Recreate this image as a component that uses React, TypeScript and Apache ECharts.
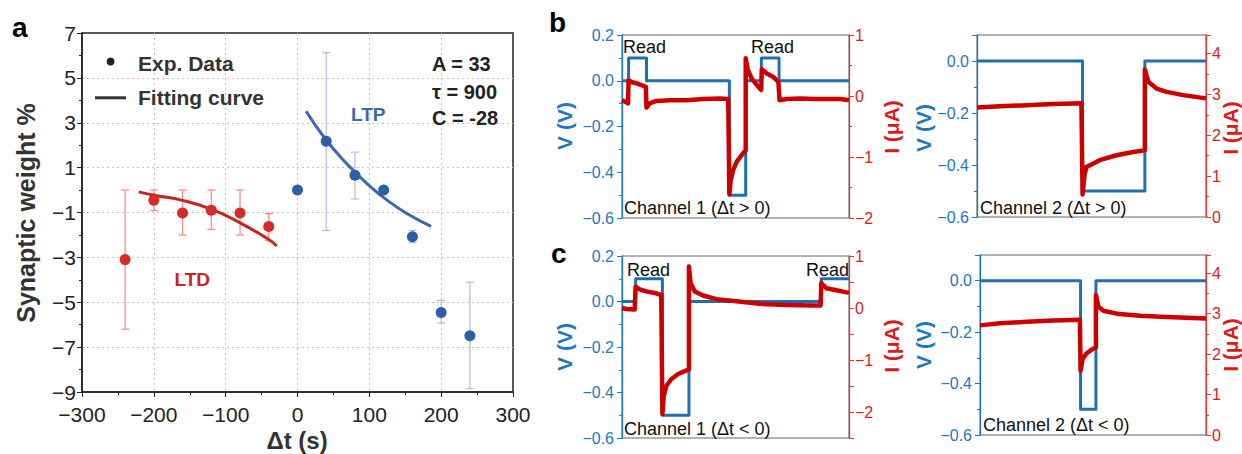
import React, { useEffect, useRef } from "react";
import * as echarts from "echarts";

const FONT = "'Liberation Sans', Arial, Helvetica, sans-serif";

// ---------- Panel a data ----------
const ltdX = [-240, -200, -160, -120, -80, -40];
const ltdY = [-3.1, -0.45, -1.02, -0.9, -1.02, -1.62];
const ltdErrLow = [-6.2, -0.92, -2.0, -1.75, -2.0, -2.26];
const ltdErrHigh = [0.0, 0.0, 0.0, 0.0, 0.0, -1.05];

const ltpX = [0, 40, 80, 120, 160, 200, 240];
const ltpY = [0.0, 2.18, 0.66, 0.0, -2.08, -5.46, -6.49];
const ltpErrLow: (number | null)[] = [null, -1.8, -0.4, null, -2.34, -5.92, -8.85];
const ltpErrHigh: (number | null)[] = [null, 6.12, 1.69, null, -1.8, -4.92, -4.11];

const ltdFitX = [-221, -200, -160, -120, -80, -40, -29];
const ltdFitY = [-0.08, -0.23, -0.46, -0.85, -1.46, -2.2, -2.49];
const ltpFitX = [12, 38, 67, 96, 125, 154, 186];
const ltpFitY = [3.51, 2.31, 1.23, 0.31, -0.46, -1.08, -1.62];

const aXTicks = [-300, -200, -100, 0, 100, 200, 300];
const aYTicks = [-9, -7, -5, -3, -1, 1, 3, 5, 7];

// ---------- Panel b, Channel 1 (dt > 0) ----------
const b1VT = [0, 2.9, 2.9, 10.8, 10.8, 47.3, 47.3, 54.5, 54.5, 61.4, 61.4, 69.2, 69.2, 100];
const b1V = [0, 0, 0.1, 0.1, 0, 0, -0.5, -0.5, 0, 0, 0.1, 0.1, 0, 0];
const b1IT = [0, 1.2, 2.65, 2.9, 4.1, 6.3, 8.5, 10.5, 10.8, 12.2, 15.2, 21.1, 28.4, 35.8, 43.2, 46.8, 47.3, 47.9, 49.0, 50.5, 52.7, 54.5, 54.5, 55.4, 57.1, 59.4, 61.3, 61.6, 63.8, 66.7, 68.9, 69.4, 72.6, 78.5, 84.4, 90.3, 96.2, 100];
const b1I = [-0.07, -0.09, -0.12, 0.26, 0.23, 0.21, 0.18, 0.15, -0.19, -0.12, -0.08, -0.07, -0.07, -0.05, -0.04, -0.05, -1.61, -1.38, -1.21, -1.08, -0.97, -0.89, 0.62, 0.43, 0.29, 0.18, 0.1, 0.44, 0.37, 0.31, 0.23, -0.07, -0.05, -0.04, -0.05, -0.05, -0.05, -0.07];

// ---------- Panel b, Channel 2 (dt > 0) ----------
const b2VT = [0, 46.1, 46.1, 73.3, 73.3, 100];
const b2V = [0, 0, -0.5, -0.5, 0, 0];
const b2IT = [0, 9.9, 21.6, 33.2, 45.6, 46.1, 47.0, 47.8, 53.6, 60.9, 68.2, 73.3, 73.3, 74.8, 78.4, 82.8, 90.1, 100];
const b2I = [2.68, 2.71, 2.73, 2.76, 2.78, 0.55, 1.05, 1.22, 1.39, 1.51, 1.59, 1.63, 3.61, 3.31, 3.14, 3.06, 2.98, 2.9];

// ---------- Panel c, Channel 1 (dt < 0) ----------
const c1VT = [0, 6.0, 6.0, 17.8, 17.8, 29.5, 29.5, 87.8, 87.8, 100];
const c1V = [0, 0, 0.1, 0.1, -0.5, -0.5, 0, 0, 0.1, 0.1];
const c1IT = [0, 1.9, 5.6, 6.0, 7.8, 10.7, 14.4, 17.3, 17.8, 18.4, 19.5, 21.7, 24.7, 29.5, 29.5, 30.2, 32.0, 35.7, 41.6, 50.4, 60.6, 72.4, 84.1, 87.5, 87.8, 90.0, 94.4, 100];
const c1I = [0.0, -0.02, -0.03, 0.41, 0.36, 0.32, 0.29, 0.25, -2.04, -1.69, -1.5, -1.37, -1.27, -1.18, 0.8, 0.48, 0.32, 0.24, 0.17, 0.13, 0.08, 0.06, 0.05, 0.05, 0.48, 0.38, 0.34, 0.29];

// ---------- Panel c, Channel 2 (dt < 0) ----------
const c2VT = [0, 44.5, 44.5, 51.3, 51.3, 100];
const c2V = [0, 0, -0.5, -0.5, 0, 0];
const c2IT = [0, 8.8, 20.6, 32.4, 44.2, 44.5, 45.4, 47.2, 49.4, 51.3, 51.3, 52.4, 54.6, 60.5, 70.8, 82.6, 100];
const c2I = [2.71, 2.76, 2.8, 2.83, 2.85, 1.59, 1.88, 2.02, 2.11, 2.17, 3.46, 3.17, 3.07, 3.0, 2.95, 2.92, 2.88];

const BLUE_V = "#1f6fb5";
const RED_I = "#cc0000";
const BLUE_LBL = "#1f77c0";
const RED_LBL = "#dd1a1a";

const zip = (a: number[], b: number[]) => a.map((v, i) => [v, b[i]]);
const minus = (s: string) => s.replace("-", "\u2212");
const fmt1 = (v: number) => minus((Math.abs(v) < 1e-9 ? 0 : v).toFixed(1));
const fmt0 = (v: number) => {
  const r = Math.round(v * 1000) / 1000;
  if (Math.abs(r - Math.round(r)) > 1e-6) return "";
  return minus(String(Math.round(r)));
};

function errorBar(color: string) {
  return (params: any, api: any) => {
    const x = api.value(0);
    const lo = api.value(1);
    const hi = api.value(2);
    const a = api.coord([x, hi]);
    const b = api.coord([x, lo]);
    const w = 4;
    const style = { stroke: color, lineWidth: 1.2 };
    return {
      type: "group",
      children: [
        { type: "line", shape: { x1: a[0], y1: a[1], x2: b[0], y2: b[1] }, style },
        { type: "line", shape: { x1: a[0] - w, y1: a[1], x2: a[0] + w, y2: a[1] }, style },
        { type: "line", shape: { x1: b[0] - w, y1: b[1], x2: b[0] + w, y2: b[1] }, style },
      ],
    };
  };
}

function vAxis(grid: number, min: number, max: number, hideMax: boolean) {
  return {
    type: "value",
    gridIndex: grid,
    position: "left",
    min,
    max,
    interval: 0.2,
    axisLine: { show: true, onZero: false, lineStyle: { color: BLUE_LBL, width: 1.3 } },
    axisTick: { show: true, length: 5, lineStyle: { color: BLUE_LBL } },
    minorTick: { show: true, splitNumber: 2, length: 3, lineStyle: { color: BLUE_LBL } },
    splitLine: { show: false },
    axisLabel: {
      color: BLUE_LBL,
      fontFamily: FONT,
      fontSize: 16,
      margin: 8,
      showMaxLabel: !hideMax,
      formatter: fmt1,
    },
  };
}

function iAxis(grid: number, min: number, max: number, interval: number, hideMax: boolean, minor: boolean) {
  return {
    type: "value",
    gridIndex: grid,
    position: "right",
    min,
    max,
    interval,
    axisLine: { show: true, onZero: false, lineStyle: { color: "#e0383c", width: 1.3 } },
    axisTick: { show: true, length: 5, lineStyle: { color: "#e0383c" } },
    minorTick: { show: minor, splitNumber: 2, length: 3, lineStyle: { color: "#e0383c" } },
    splitLine: { show: false },
    axisLabel: {
      color: RED_LBL,
      fontFamily: FONT,
      fontSize: 16,
      margin: 6,
      showMaxLabel: !hideMax,
      formatter: fmt0,
    },
  };
}

function hiddenX(grid: number) {
  return { type: "value", gridIndex: grid, min: 0, max: 100, show: false };
}

function wave(xi: number, yi: number, t: number[], v: number[], color: string, width: number, z: number) {
  return {
    type: "line",
    xAxisIndex: xi,
    yAxisIndex: yi,
    data: zip(t, v),
    showSymbol: false,
    symbol: "none",
    lineStyle: { color, width, join: "round" },
    z,
  };
}

function txt(x: number, y: number, text: string, font: string, fill: string, align = "left", rot = 0) {
  return {
    type: "text",
    x,
    y,
    rotation: rot,
    z: 100,
    style: { text, font, fill, textAlign: align, textVerticalAlign: "middle" },
  };
}

export default function App() {
  const ref = useRef<HTMLDivElement>(null);
  useEffect(() => {
    if (!ref.current) return;
    const chart = echarts.init(ref.current, null, { renderer: "svg" });

    const ltdErr = ltdX.map((x, i) => [x, ltdErrLow[i], ltdErrHigh[i]]);
    const ltpErr = ltpX
      .map((x, i) => [x, ltpErrLow[i], ltpErrHigh[i]])
      .filter((d) => d[1] !== null && d[2] !== null);

    const gridLine = {
      show: true,
      showMinLine: false,
      showMaxLine: false,
      lineStyle: { color: "#d8b8b8", type: [2, 3] as any, width: 1 },
    };
    const B = "bold 21px " + FONT;
    const R18 = "18px " + FONT;

    const option: any = {
      animation: false,
      backgroundColor: "#ffffff",
      grid: [
        { left: 82, top: 33, width: 431, height: 359, show: true, borderColor: "#222", borderWidth: 1.5, backgroundColor: "transparent" },
        { left: 622, top: 35, width: 227, height: 183, show: true, borderColor: "#666", borderWidth: 1, backgroundColor: "transparent" },
        { left: 977, top: 35, width: 229, height: 182, show: true, borderColor: "#666", borderWidth: 1, backgroundColor: "transparent" },
        { left: 622, top: 256, width: 227, height: 182, show: true, borderColor: "#666", borderWidth: 1, backgroundColor: "transparent" },
        { left: 980, top: 255, width: 226, height: 180, show: true, borderColor: "#666", borderWidth: 1, backgroundColor: "transparent" },
      ],
      xAxis: [
        {
          type: "value",
          gridIndex: 0,
          min: aXTicks[0],
          max: aXTicks[aXTicks.length - 1],
          interval: 100,
          axisLine: { show: true, onZero: false, lineStyle: { color: "#222", width: 1.5 } },
          axisTick: { show: true, length: 5, lineStyle: { color: "#222" } },
          minorTick: { show: true, splitNumber: 2, length: 3, lineStyle: { color: "#222" } },
          splitLine: gridLine,
          axisLabel: { color: "#222", fontFamily: FONT, fontSize: 21, margin: 12, formatter: (v: number) => minus(String(v)) },
        },
        hiddenX(1),
        hiddenX(2),
        hiddenX(3),
        hiddenX(4),
      ],
      yAxis: [
        {
          type: "value",
          gridIndex: 0,
          min: aYTicks[0],
          max: aYTicks[aYTicks.length - 1],
          interval: 2,
          axisLine: { show: true, onZero: false, lineStyle: { color: "#222", width: 1.5 } },
          axisTick: { show: true, length: 5, lineStyle: { color: "#222" } },
          minorTick: { show: true, splitNumber: 2, length: 3, lineStyle: { color: "#222" } },
          splitLine: gridLine,
          axisLabel: { color: "#222", fontFamily: FONT, fontSize: 21, margin: 6, formatter: (v: number) => minus(String(v)) },
        },
        vAxis(1, -0.6, 0.2, false),
        iAxis(1, -2, 1, 1, false, true),
        vAxis(2, -0.6, 0.1, true),
        iAxis(2, 0, 4.45, 1, true, true),
        vAxis(3, -0.6, 0.2, false),
        iAxis(3, -2.5, 1, 0.5, false, false),
        vAxis(4, -0.6, 0.1, true),
        iAxis(4, 0, 4.45, 1, true, true),
      ],
      series: [
        { type: "custom", xAxisIndex: 0, yAxisIndex: 0, data: ltdErr, renderItem: errorBar("#f08a80"), encode: { x: 0, y: [1, 2] }, z: 2 },
        { type: "custom", xAxisIndex: 0, yAxisIndex: 0, data: ltpErr, renderItem: errorBar("#aebde6"), encode: { x: 0, y: [1, 2] }, z: 2 },
        { type: "line", xAxisIndex: 0, yAxisIndex: 0, data: zip(ltdFitX, ltdFitY), smooth: true, showSymbol: false, symbol: "none", lineStyle: { color: "#c8231f", width: 3 }, z: 3 },
        { type: "line", xAxisIndex: 0, yAxisIndex: 0, data: zip(ltpFitX, ltpFitY), smooth: true, showSymbol: false, symbol: "none", lineStyle: { color: "#3c68b1", width: 3 }, z: 3 },
        { type: "scatter", xAxisIndex: 0, yAxisIndex: 0, data: zip(ltdX, ltdY), symbolSize: 11, itemStyle: { color: "#d42c27", opacity: 1 }, z: 4 },
        { type: "scatter", xAxisIndex: 0, yAxisIndex: 0, data: zip(ltpX, ltpY), symbolSize: 11, itemStyle: { color: "#2f5ea8", opacity: 1 }, z: 4 },

        wave(1, 1, b1VT, b1V, BLUE_V, 3, 3),
        wave(1, 2, b1IT, b1I, RED_I, 4.5, 4),
        wave(2, 3, b2VT, b2V, BLUE_V, 3, 3),
        wave(2, 4, b2IT, b2I, RED_I, 4.5, 4),
        wave(3, 5, c1VT, c1V, BLUE_V, 3, 3),
        wave(3, 6, c1IT, c1I, RED_I, 4.5, 4),
        wave(4, 7, c2VT, c2V, BLUE_V, 3, 3),
        wave(4, 8, c2IT, c2I, RED_I, 4.5, 4),
      ],
      graphic: [
        // panel labels
        txt(12, 27, "a", "bold 28px " + FONT, "#000"),
        txt(549, 22, "b", "bold 28px " + FONT, "#000"),
        txt(551, 253, "c", "bold 28px " + FONT, "#000"),
        // panel a legend
        { type: "circle", shape: { cx: 110.6, cy: 61.5, r: 4 }, style: { fill: "#222" }, z: 100 },
        txt(138, 63, "Exp. Data", "bold 21px " + FONT, "#333"),
        { type: "line", shape: { x1: 95, y1: 97.8, x2: 126, y2: 97.8 }, style: { stroke: "#333", lineWidth: 3 }, z: 100 },
        txt(138, 97, "Fitting curve", "bold 21px " + FONT, "#333"),
        txt(432, 64, "A = 33", "bold 20px " + FONT, "#222"),
        txt(432, 92, "\u03c4 = 900", "bold 20px " + FONT, "#222"),
        txt(432, 117.5, "C = -28", "bold 20px " + FONT, "#222"),
        txt(351, 114, "LTP", "bold 19px " + FONT, "#3c68b1"),
        txt(174.5, 279, "LTD", "bold 19px " + FONT, "#c8231f"),
        txt(26, 213, "Synaptic weight %", "bold 25px " + FONT, "#333", "center", Math.PI / 2),
        txt(297, 440, "\u0394t (s)", "bold 24px " + FONT, "#333", "center"),
        // panel b
        txt(623, 47, "Read", R18, "#111"),
        txt(751, 47, "Read", R18, "#111"),
        txt(624, 208, "Channel 1 (\u0394t > 0)", R18, "#111"),
        txt(980, 208, "Channel 2 (\u0394t > 0)", R18, "#111"),
        txt(564, 126, "V (V)", B, BLUE_LBL, "center", Math.PI / 2),
        txt(891, 127, "I (\u03bcA)", B, RED_LBL, "center", Math.PI / 2),
        txt(923, 128, "V (V)", B, BLUE_LBL, "center", Math.PI / 2),
        txt(1230, 128, "I (\u03bcA)", B, RED_LBL, "center", Math.PI / 2),
        // panel c
        txt(627, 270, "Read", R18, "#111"),
        txt(806, 270, "Read", R18, "#111"),
        txt(624, 429, "Channel 1 (\u0394t < 0)", R18, "#111"),
        txt(983, 425, "Channel 2 (\u0394t < 0)", R18, "#111"),
        txt(564, 347, "V (V)", B, BLUE_LBL, "center", Math.PI / 2),
        txt(891, 346, "I (\u03bcA)", B, RED_LBL, "center", Math.PI / 2),
        txt(923, 345, "V (V)", B, BLUE_LBL, "center", Math.PI / 2),
        txt(1230, 345, "I (\u03bcA)", B, RED_LBL, "center", Math.PI / 2),
      ],
    };
    chart.setOption(option);
    return () => chart.dispose();
  }, []);
  return (
    <div
      ref={ref}
      style={{ position: "absolute", left: 0, top: 0, width: 1242, height: 454, background: "#fff" }}
    />
  );
}
